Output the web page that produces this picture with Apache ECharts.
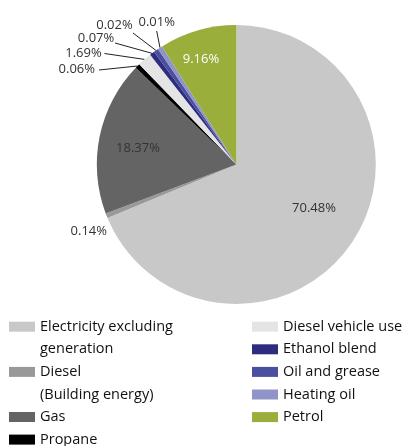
<!DOCTYPE html>
<html><head><meta charset="utf-8">
<script src="https://cdn.jsdelivr.net/npm/echarts@6/dist/echarts.min.js"></script>
<style>html,body{margin:0;padding:0;background:#fff}#c{width:406px;height:446px}</style>
</head><body><div id="c"></div>
<script>
const categories = ['Electricity excluding generation','Diesel (Building energy)','Gas','Propane','Diesel vehicle use','Ethanol blend','Oil and grease','Heating oil','Petrol'];
const legendText = ['Electricity excluding\ngeneration','Diesel\n(Building energy)','Gas','Propane','Diesel vehicle use','Ethanol blend','Oil and grease','Heating oil','Petrol'];
const values = [70.48, 0.14, 18.37, 0.06, 1.69, 0.07, 0.02, 0.01, 9.16];
const colors = ['#c8c8c8','#999999','#646464','#000000','#e4e4e4','#2d2c7e','#4a4f9f','#9094c8','#9aaf3b'];

const labelPos = [
  {x:314, y:208.5, align:'center'},
  {x:107, y:231, align:'right'},
  {x:138, y:148, align:'center'},
  {x:95, y:69.5, align:'right', anchor:[99,70]},
  {x:101.7, y:53, align:'right', anchor:[104.5,53.5]},
  {x:114.3, y:38, align:'right', anchor:[115,43]},
  {x:132.7, y:25.5, align:'right', anchor:[133,33]},
  {x:156.7, y:22.5, align:'center', anchor:[156.7,31]},
  {x:201, y:59, align:'center'}
];
const insideIdx = [0,2,8];

const chart = echarts.init(document.getElementById('c'), null, {renderer:'canvas'});
const nameToText = {};
categories.forEach((c,i)=>nameToText[c]=legendText[i]);
const font = 'Open Sans';
const legendTS = {fontFamily:font, fontSize:14.5, color:'#111', lineHeight:22.6};
const tallIcon = 'path://M0,0M0,45.2M0,6.3H26V16.3H0Z';

const data = categories.map((c,i)=>{
  const inside = insideIdx.includes(i);
  return {
    name:c, value:values[i],
    itemStyle:{color:colors[i]},
    label:{position: inside ? 'inside':'outside', color: i===8 ? '#ffffff' : '#333333'},
    labelLine:{show: !inside && i!==1}
  };
});

chart.setOption({
  animation:false,
  backgroundColor:'#ffffff',
  legend:[
    {orient:'vertical', left:9, top:315.4, height:100, padding:0, itemGap:0, itemWidth:26, itemHeight:45.2,
     selectedMode:false, data:[{name:categories[0], icon:tallIcon},{name:categories[1], icon:tallIcon}],
     formatter:n=>nameToText[n], textStyle:legendTS},
    {orient:'vertical', left:9, top:405.7, height:50, padding:0, itemGap:0, itemWidth:26, itemHeight:10, icon:'rect',
     selectedMode:false, data:[categories[2],categories[3]], formatter:n=>nameToText[n], textStyle:legendTS},
    {orient:'vertical', left:252, top:315.4, height:130, padding:0, itemGap:0, itemWidth:26, itemHeight:10, icon:'rect',
     selectedMode:false, data:categories.slice(4), formatter:n=>nameToText[n], textStyle:legendTS}
  ],
  series:[{
    type:'pie',
    center:[236.3,164.5],
    radius:139.5,
    startAngle:90,
    clockwise:true,
    minAngle:2,
    avoidLabelOverlap:false,
    emphasis:{disabled:true},
    label:{show:true, fontFamily:font, fontSize:13, formatter:p=>p.value.toFixed(2)+'%'},
    labelLine:{show:true, length:10, length2:10, lineStyle:{color:'#222', width:1}},
    labelLayout:function(params){
      const p = labelPos[params.dataIndex];
      const out = {x:p.x, y:p.y, align:p.align, verticalAlign:'middle'};
      if (p.anchor && params.labelLinePoints) {
        out.labelLinePoints = [params.labelLinePoints[0], p.anchor, p.anchor];
      }
      return out;
    },
    data:data
  }]
});
</script></body></html>
